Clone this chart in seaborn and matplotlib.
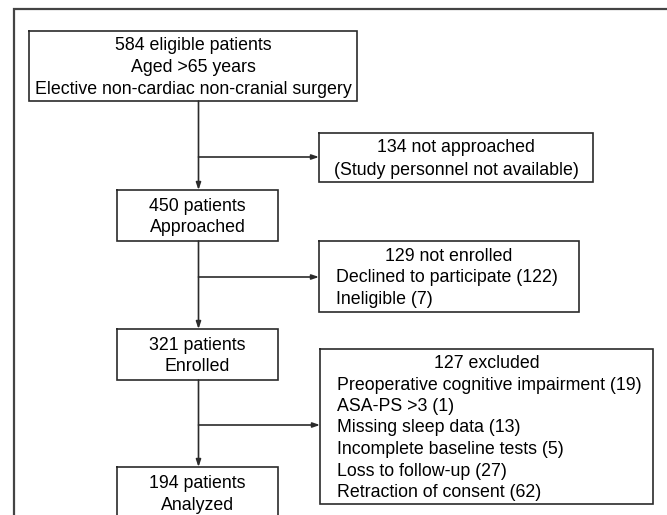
import matplotlib.pyplot as plt
import seaborn as sns

# flow counts and labels
eligible = 584
not_approached = 134
approached = 450
not_enrolled = 129
declined = 122
ineligible = 7
enrolled = 321
excluded = 127
excl_reasons = ["Preoperative cognitive impairment", "ASA-PS >3", "Missing sleep data",
                "Incomplete baseline tests", "Loss to follow-up", "Retraction of consent"]
excl_counts = [19, 1, 13, 5, 27, 62]
analyzed = 194

main_texts = [
    [f"{eligible} eligible patients", "Aged >65 years", "Elective non-cardiac non-cranial surgery"],
    [f"{approached} patients", "Approached"],
    [f"{enrolled} patients", "Enrolled"],
    [f"{analyzed} patients", "Analyzed"],
]
side_titles = [f"{not_approached} not approached", f"{not_enrolled} not enrolled", f"{excluded} excluded"]
side_lines = [
    ["(Study personnel not available)"],
    [f"Declined to participate ({declined})", f"Ineligible ({ineligible})"],
    [f"{r} ({c})" for r, c in zip(excl_reasons, excl_counts)],
]

# layout in pixel units (x0, x1, y0, y1)
main_boxes = [(29, 357, 31, 101), (117, 278, 190, 241), (117, 278, 329, 380), (117, 278, 467, 519)]
side_boxes = [(319, 593, 133, 182), (319, 579, 241, 312), (320, 653, 349, 504)]
branch_y = [157, 277, 425]
trunk_x = 198.5
line_gap = 21.5
fs = 12.8
dy = 1.5  # nudge text down a touch
col = "#2b2b2b"

sns.set_theme(style="white")
plt.rcParams["font.family"] = ["Liberation Sans", "DejaVu Sans"]

fig = plt.figure(figsize=(6.67, 5.15), dpi=100)
ax = fig.add_axes([0, 0, 1, 1])
ax.set_xlim(0, 667)
ax.set_ylim(515, 0)
ax.axis("off")

# outer frame
ax.plot([14, 14, 700], [600, 9, 9], color="#444444", lw=1.6, solid_joinstyle="miter")


def box(x0, x1, y0, y1):
    ax.plot([x0, x1, x1, x0, x0], [y0, y0, y1, y1, y0], color=col, lw=1.2,
            solid_joinstyle="miter")


def arrow(x0, y0, x1, y1):
    ax.annotate("", xy=(x1, y1), xytext=(x0, y0),
                arrowprops=dict(arrowstyle="-|>,head_length=0.35,head_width=0.12",
                                color=col, lw=1.2, shrinkA=0, shrinkB=0))


for (x0, x1, y0, y1), lines in zip(main_boxes, main_texts):
    box(x0, x1, y0, y1)
    cx, cy = (x0 + x1) / 2, (y0 + y1) / 2 + dy
    n = len(lines)
    for i, t in enumerate(lines):
        ax.text(cx, cy + (i - (n - 1) / 2) * line_gap, t, ha="center", va="center",
                fontsize=fs, color="black")

for k, ((x0, x1, y0, y1), title, lines) in enumerate(zip(side_boxes, side_titles, side_lines)):
    box(x0, x1, y0, y1)
    cx, cy = (x0 + x1) / 2, (y0 + y1) / 2 + dy
    allt = [title] + lines
    n = len(allt)
    gap = 23 if k == 0 else line_gap
    for i, t in enumerate(allt):
        y = cy + (i - (n - 1) / 2) * gap
        if k == 0 or i == 0:
            ax.text(cx, y, t, ha="center", va="center", fontsize=fs, color="black")
        else:
            ax.text(x0 + 17, y, t, ha="left", va="center", fontsize=fs, color="black")

# vertical connectors
for a, b in zip(main_boxes[:-1], main_boxes[1:]):
    arrow(trunk_x, a[3], trunk_x, b[2])

# branches
for y, sb in zip(branch_y, side_boxes):
    arrow(trunk_x, y, sb[0], y)

fig.savefig("out.png", dpi=100)
